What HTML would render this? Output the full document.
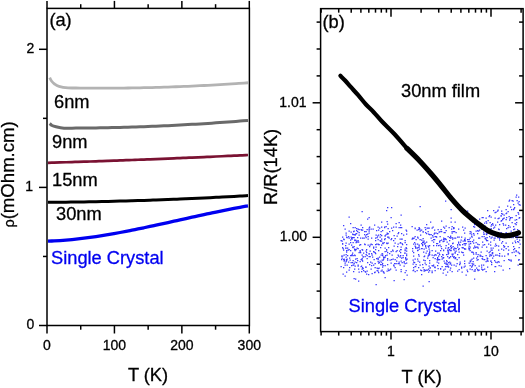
<!DOCTYPE html>
<html><head><meta charset="utf-8"><style>html,body{margin:0;padding:0;background:#fff;width:525px;height:388px;overflow:hidden}</style></head>
<body><svg width="525" height="388" viewBox="0 0 525 388" style="display:block;will-change:transform;font-family:'Liberation Sans',sans-serif"><rect x="47.0" y="8.4" width="202.4" height="317.1" fill="none" stroke="#000" stroke-width="1.5"/>
<line x1="47.00" y1="8.40" x2="47.00" y2="0.90" stroke="#000" stroke-width="1.5"/>
<line x1="47.00" y1="325.50" x2="47.00" y2="333.50" stroke="#000" stroke-width="1.5"/>
<line x1="80.72" y1="8.40" x2="80.72" y2="4.20" stroke="#000" stroke-width="1.5"/>
<line x1="80.72" y1="325.50" x2="80.72" y2="329.70" stroke="#000" stroke-width="1.5"/>
<line x1="114.43" y1="8.40" x2="114.43" y2="0.90" stroke="#000" stroke-width="1.5"/>
<line x1="114.43" y1="325.50" x2="114.43" y2="333.50" stroke="#000" stroke-width="1.5"/>
<line x1="148.15" y1="8.40" x2="148.15" y2="4.20" stroke="#000" stroke-width="1.5"/>
<line x1="148.15" y1="325.50" x2="148.15" y2="329.70" stroke="#000" stroke-width="1.5"/>
<line x1="181.87" y1="8.40" x2="181.87" y2="0.90" stroke="#000" stroke-width="1.5"/>
<line x1="181.87" y1="325.50" x2="181.87" y2="333.50" stroke="#000" stroke-width="1.5"/>
<line x1="215.58" y1="8.40" x2="215.58" y2="4.20" stroke="#000" stroke-width="1.5"/>
<line x1="215.58" y1="325.50" x2="215.58" y2="329.70" stroke="#000" stroke-width="1.5"/>
<line x1="249.30" y1="8.40" x2="249.30" y2="0.90" stroke="#000" stroke-width="1.5"/>
<line x1="249.30" y1="325.50" x2="249.30" y2="333.50" stroke="#000" stroke-width="1.5"/>
<line x1="47.00" y1="325.50" x2="39.00" y2="325.50" stroke="#000" stroke-width="1.5"/>
<line x1="47.00" y1="256.45" x2="43.00" y2="256.45" stroke="#000" stroke-width="1.5"/>
<line x1="47.00" y1="187.40" x2="39.00" y2="187.40" stroke="#000" stroke-width="1.5"/>
<line x1="47.00" y1="118.35" x2="43.00" y2="118.35" stroke="#000" stroke-width="1.5"/>
<line x1="47.00" y1="49.30" x2="39.00" y2="49.30" stroke="#000" stroke-width="1.5"/>
<text x="34.20" y="328.80" font-size="14" text-anchor="end" fill="#000" stroke="#000" stroke-width="0.3" >0</text>
<text x="33.00" y="191.40" font-size="14" text-anchor="end" fill="#000" stroke="#000" stroke-width="0.3" >1</text>
<text x="34.20" y="53.30" font-size="14" text-anchor="end" fill="#000" stroke="#000" stroke-width="0.3" >2</text>
<text x="47.00" y="350.00" font-size="14" text-anchor="middle" fill="#000" stroke="#000" stroke-width="0.3" >0</text>
<text x="114.43" y="350.00" font-size="14" text-anchor="middle" fill="#000" stroke="#000" stroke-width="0.3" >100</text>
<text x="181.87" y="350.00" font-size="14" text-anchor="middle" fill="#000" stroke="#000" stroke-width="0.3" >200</text>
<text x="249.30" y="350.00" font-size="14" text-anchor="middle" fill="#000" stroke="#000" stroke-width="0.3" >300</text>
<text x="148.00" y="381.00" font-size="18.25" text-anchor="middle" fill="#000" stroke="#000" stroke-width="0.3" >T (K)</text>
<text x="0" y="0" font-size="18.6" text-anchor="start" stroke="#000" stroke-width="0.3" transform="translate(14.3,227.6) rotate(-90)"><tspan font-size="14.5">&#961;</tspan>(mOhm.cm)</text>
<text x="49.40" y="26.00" font-size="18.25" text-anchor="start" fill="#000" stroke="#000" stroke-width="0.3" >(a)</text>
<path d="M49.70,77.60 C50.00,78.17 50.70,79.93 51.50,81.00 C52.30,82.07 53.25,83.12 54.50,84.00 C55.75,84.88 56.75,85.65 59.00,86.30 C61.25,86.95 65.17,87.59 68.00,87.87 C70.83,88.16 73.33,87.96 76.00,87.99 C78.67,88.03 81.33,88.06 84.00,88.08 C86.67,88.11 89.33,88.12 92.00,88.14 C94.67,88.15 97.33,88.16 100.00,88.16 C102.67,88.16 105.33,88.16 108.00,88.15 C110.67,88.14 113.33,88.13 116.00,88.11 C118.67,88.09 121.33,88.06 124.00,88.03 C126.67,88.00 129.33,87.97 132.00,87.93 C134.67,87.89 137.33,87.84 140.00,87.79 C142.67,87.74 145.33,87.68 148.00,87.62 C150.67,87.56 153.33,87.49 156.00,87.42 C158.67,87.34 161.33,87.26 164.00,87.18 C166.67,87.10 169.33,87.01 172.00,86.91 C174.67,86.82 177.33,86.72 180.00,86.61 C182.67,86.51 185.33,86.40 188.00,86.28 C190.67,86.16 193.33,86.04 196.00,85.91 C198.67,85.79 201.33,85.65 204.00,85.52 C206.67,85.38 209.33,85.24 212.00,85.09 C214.67,84.94 217.33,84.78 220.00,84.63 C222.67,84.47 225.33,84.30 228.00,84.13 C230.67,83.96 233.33,83.79 236.00,83.60 C238.67,83.42 242.00,83.19 244.00,83.05 C246.00,82.90 247.33,82.80 248.00,82.75" fill="none" stroke="#b3b3b3" stroke-width="2.8"/>
<path d="M49.70,123.50 C50.08,123.83 50.95,124.95 52.00,125.50 C53.05,126.05 54.00,126.36 56.00,126.80 C58.00,127.24 61.33,127.94 64.00,128.16 C66.67,128.38 69.33,128.15 72.00,128.14 C74.67,128.13 77.33,128.11 80.00,128.09 C82.67,128.07 85.33,128.04 88.00,128.01 C90.67,127.98 93.33,127.94 96.00,127.90 C98.67,127.86 101.33,127.82 104.00,127.77 C106.67,127.72 109.33,127.66 112.00,127.60 C114.67,127.54 117.33,127.48 120.00,127.41 C122.67,127.34 125.33,127.27 128.00,127.19 C130.67,127.11 133.33,127.02 136.00,126.94 C138.67,126.85 141.33,126.75 144.00,126.66 C146.67,126.56 149.33,126.45 152.00,126.35 C154.67,126.24 157.33,126.13 160.00,126.01 C162.67,125.89 165.33,125.77 168.00,125.64 C170.67,125.52 173.33,125.39 176.00,125.25 C178.67,125.11 181.33,124.97 184.00,124.83 C186.67,124.68 189.33,124.53 192.00,124.37 C194.67,124.22 197.33,124.06 200.00,123.89 C202.67,123.73 205.33,123.56 208.00,123.38 C210.67,123.21 213.33,123.03 216.00,122.84 C218.67,122.66 221.33,122.47 224.00,122.28 C226.67,122.08 229.33,121.88 232.00,121.68 C234.67,121.48 237.33,121.27 240.00,121.06 C242.67,120.84 246.67,120.51 248.00,120.40" fill="none" stroke="#6a6a6a" stroke-width="3"/>
<path d="M48.00,162.80 C49.00,162.77 52.00,162.68 54.00,162.62 C56.00,162.56 58.00,162.50 60.00,162.44 C62.00,162.38 64.00,162.32 66.00,162.25 C68.00,162.19 70.00,162.13 72.00,162.07 C74.00,162.00 76.00,161.94 78.00,161.87 C80.00,161.81 82.00,161.75 84.00,161.68 C86.00,161.61 88.00,161.55 90.00,161.48 C92.00,161.42 94.00,161.35 96.00,161.28 C98.00,161.21 100.00,161.14 102.00,161.07 C104.00,161.01 106.00,160.94 108.00,160.87 C110.00,160.80 112.00,160.73 114.00,160.65 C116.00,160.58 118.00,160.51 120.00,160.44 C122.00,160.37 124.00,160.29 126.00,160.22 C128.00,160.15 130.00,160.07 132.00,160.00 C134.00,159.92 136.00,159.85 138.00,159.77 C140.00,159.69 142.00,159.62 144.00,159.54 C146.00,159.46 148.00,159.39 150.00,159.31 C152.00,159.23 154.00,159.15 156.00,159.07 C158.00,158.99 160.00,158.91 162.00,158.83 C164.00,158.75 166.00,158.67 168.00,158.59 C170.00,158.50 172.00,158.42 174.00,158.34 C176.00,158.26 178.00,158.17 180.00,158.09 C182.00,158.00 184.00,157.92 186.00,157.83 C188.00,157.75 190.00,157.66 192.00,157.58 C194.00,157.49 196.00,157.40 198.00,157.32 C200.00,157.23 202.00,157.14 204.00,157.05 C206.00,156.96 208.00,156.87 210.00,156.78 C212.00,156.69 214.00,156.60 216.00,156.51 C218.00,156.42 220.00,156.33 222.00,156.24 C224.00,156.14 226.00,156.05 228.00,155.96 C230.00,155.86 232.00,155.77 234.00,155.67 C236.00,155.58 238.00,155.48 240.00,155.39 C242.00,155.29 244.67,155.16 246.00,155.10 C247.33,155.03 247.67,155.02 248.00,155.00" fill="none" stroke="#7a1232" stroke-width="2.7"/>
<path d="M48.00,202.36 C49.00,202.35 52.00,202.32 54.00,202.30 C56.00,202.28 58.00,202.26 60.00,202.24 C62.00,202.21 64.00,202.19 66.00,202.16 C68.00,202.14 70.00,202.11 72.00,202.08 C74.00,202.05 76.00,202.02 78.00,201.99 C80.00,201.96 82.00,201.93 84.00,201.89 C86.00,201.86 88.00,201.82 90.00,201.78 C92.00,201.74 94.00,201.70 96.00,201.66 C98.00,201.62 100.00,201.58 102.00,201.53 C104.00,201.49 106.00,201.44 108.00,201.40 C110.00,201.35 112.00,201.30 114.00,201.25 C116.00,201.20 118.00,201.15 120.00,201.10 C122.00,201.04 124.00,200.99 126.00,200.93 C128.00,200.88 130.00,200.82 132.00,200.76 C134.00,200.70 136.00,200.64 138.00,200.58 C140.00,200.51 142.00,200.45 144.00,200.38 C146.00,200.32 148.00,200.25 150.00,200.18 C152.00,200.11 154.00,200.04 156.00,199.97 C158.00,199.90 160.00,199.83 162.00,199.75 C164.00,199.68 166.00,199.60 168.00,199.52 C170.00,199.45 172.00,199.37 174.00,199.29 C176.00,199.21 178.00,199.12 180.00,199.04 C182.00,198.96 184.00,198.87 186.00,198.78 C188.00,198.70 190.00,198.61 192.00,198.52 C194.00,198.43 196.00,198.34 198.00,198.24 C200.00,198.15 202.00,198.06 204.00,197.96 C206.00,197.87 208.00,197.77 210.00,197.67 C212.00,197.57 214.00,197.47 216.00,197.37 C218.00,197.27 220.00,197.16 222.00,197.06 C224.00,196.95 226.00,196.84 228.00,196.74 C230.00,196.63 232.00,196.52 234.00,196.41 C236.00,196.30 238.00,196.18 240.00,196.07 C242.00,195.95 244.67,195.80 246.00,195.72 C247.33,195.64 247.67,195.62 248.00,195.60" fill="none" stroke="#000" stroke-width="3"/>
<path d="M48.00,241.18 C49.00,241.14 52.00,241.01 54.00,240.91 C56.00,240.80 58.00,240.68 60.00,240.54 C62.00,240.40 64.00,240.24 66.00,240.07 C68.00,239.90 70.00,239.72 72.00,239.52 C74.00,239.32 76.00,239.11 78.00,238.89 C80.00,238.66 82.00,238.42 84.00,238.17 C86.00,237.92 88.00,237.66 90.00,237.39 C92.00,237.11 94.00,236.83 96.00,236.53 C98.00,236.23 100.00,235.93 102.00,235.61 C104.00,235.29 106.00,234.96 108.00,234.63 C110.00,234.29 112.00,233.94 114.00,233.59 C116.00,233.24 118.00,232.87 120.00,232.50 C122.00,232.13 124.00,231.76 126.00,231.37 C128.00,230.99 130.00,230.59 132.00,230.20 C134.00,229.80 136.00,229.39 138.00,228.99 C140.00,228.58 142.00,228.16 144.00,227.74 C146.00,227.32 148.00,226.90 150.00,226.47 C152.00,226.05 154.00,225.61 156.00,225.18 C158.00,224.75 160.00,224.31 162.00,223.87 C164.00,223.43 166.00,222.99 168.00,222.54 C170.00,222.10 172.00,221.65 174.00,221.21 C176.00,220.76 178.00,220.32 180.00,219.87 C182.00,219.43 184.00,218.98 186.00,218.53 C188.00,218.09 190.00,217.64 192.00,217.20 C194.00,216.76 196.00,216.32 198.00,215.88 C200.00,215.44 202.00,215.00 204.00,214.57 C206.00,214.14 208.00,213.71 210.00,213.28 C212.00,212.86 214.00,212.43 216.00,212.02 C218.00,211.60 220.00,211.19 222.00,210.78 C224.00,210.37 226.00,209.97 228.00,209.58 C230.00,209.18 232.00,208.79 234.00,208.41 C236.00,208.03 238.00,207.65 240.00,207.28 C242.00,206.92 244.67,206.44 246.00,206.21 C247.33,205.97 247.67,205.92 248.00,205.86" fill="none" stroke="#0000f0" stroke-width="3.3"/>
<text x="54.00" y="107.50" font-size="18.25" text-anchor="start" fill="#000" stroke="#000" stroke-width="0.3" >6nm</text>
<text x="52.00" y="148.00" font-size="18.25" text-anchor="start" fill="#000" stroke="#000" stroke-width="0.3" >9nm</text>
<text x="52.00" y="185.50" font-size="18.25" text-anchor="start" fill="#000" stroke="#000" stroke-width="0.3" >15nm</text>
<text x="56.00" y="220.00" font-size="18.25" text-anchor="start" fill="#000" stroke="#000" stroke-width="0.3" >30nm</text>
<text x="51.00" y="263.50" font-size="18.25" text-anchor="start" fill="#0000f0" stroke="#0000f0" stroke-width="0.3" >Single Crystal</text>
<rect x="320.6" y="8.65" width="202.5" height="322.95000000000005" fill="none" stroke="#000" stroke-width="1.5"/>
<line x1="321.10" y1="8.65" x2="321.10" y2="12.65" stroke="#000" stroke-width="1.5"/>
<line x1="321.10" y1="331.60" x2="321.10" y2="335.60" stroke="#000" stroke-width="1.5"/>
<line x1="338.71" y1="8.65" x2="338.71" y2="12.65" stroke="#000" stroke-width="1.5"/>
<line x1="338.71" y1="331.60" x2="338.71" y2="335.60" stroke="#000" stroke-width="1.5"/>
<line x1="351.21" y1="8.65" x2="351.21" y2="12.65" stroke="#000" stroke-width="1.5"/>
<line x1="351.21" y1="331.60" x2="351.21" y2="335.60" stroke="#000" stroke-width="1.5"/>
<line x1="360.90" y1="8.65" x2="360.90" y2="12.65" stroke="#000" stroke-width="1.5"/>
<line x1="360.90" y1="331.60" x2="360.90" y2="335.60" stroke="#000" stroke-width="1.5"/>
<line x1="368.82" y1="8.65" x2="368.82" y2="12.65" stroke="#000" stroke-width="1.5"/>
<line x1="368.82" y1="331.60" x2="368.82" y2="335.60" stroke="#000" stroke-width="1.5"/>
<line x1="375.51" y1="8.65" x2="375.51" y2="12.65" stroke="#000" stroke-width="1.5"/>
<line x1="375.51" y1="331.60" x2="375.51" y2="335.60" stroke="#000" stroke-width="1.5"/>
<line x1="381.31" y1="8.65" x2="381.31" y2="12.65" stroke="#000" stroke-width="1.5"/>
<line x1="381.31" y1="331.60" x2="381.31" y2="335.60" stroke="#000" stroke-width="1.5"/>
<line x1="386.42" y1="8.65" x2="386.42" y2="12.65" stroke="#000" stroke-width="1.5"/>
<line x1="386.42" y1="331.60" x2="386.42" y2="335.60" stroke="#000" stroke-width="1.5"/>
<line x1="391.00" y1="8.65" x2="391.00" y2="16.65" stroke="#000" stroke-width="1.5"/>
<line x1="391.00" y1="331.60" x2="391.00" y2="339.60" stroke="#000" stroke-width="1.5"/>
<line x1="421.10" y1="8.65" x2="421.10" y2="12.65" stroke="#000" stroke-width="1.5"/>
<line x1="421.10" y1="331.60" x2="421.10" y2="335.60" stroke="#000" stroke-width="1.5"/>
<line x1="438.71" y1="8.65" x2="438.71" y2="12.65" stroke="#000" stroke-width="1.5"/>
<line x1="438.71" y1="331.60" x2="438.71" y2="335.60" stroke="#000" stroke-width="1.5"/>
<line x1="451.21" y1="8.65" x2="451.21" y2="12.65" stroke="#000" stroke-width="1.5"/>
<line x1="451.21" y1="331.60" x2="451.21" y2="335.60" stroke="#000" stroke-width="1.5"/>
<line x1="460.90" y1="8.65" x2="460.90" y2="12.65" stroke="#000" stroke-width="1.5"/>
<line x1="460.90" y1="331.60" x2="460.90" y2="335.60" stroke="#000" stroke-width="1.5"/>
<line x1="468.82" y1="8.65" x2="468.82" y2="12.65" stroke="#000" stroke-width="1.5"/>
<line x1="468.82" y1="331.60" x2="468.82" y2="335.60" stroke="#000" stroke-width="1.5"/>
<line x1="475.51" y1="8.65" x2="475.51" y2="12.65" stroke="#000" stroke-width="1.5"/>
<line x1="475.51" y1="331.60" x2="475.51" y2="335.60" stroke="#000" stroke-width="1.5"/>
<line x1="481.31" y1="8.65" x2="481.31" y2="12.65" stroke="#000" stroke-width="1.5"/>
<line x1="481.31" y1="331.60" x2="481.31" y2="335.60" stroke="#000" stroke-width="1.5"/>
<line x1="486.42" y1="8.65" x2="486.42" y2="12.65" stroke="#000" stroke-width="1.5"/>
<line x1="486.42" y1="331.60" x2="486.42" y2="335.60" stroke="#000" stroke-width="1.5"/>
<line x1="491.00" y1="8.65" x2="491.00" y2="16.65" stroke="#000" stroke-width="1.5"/>
<line x1="491.00" y1="331.60" x2="491.00" y2="339.60" stroke="#000" stroke-width="1.5"/>
<line x1="521.10" y1="8.65" x2="521.10" y2="12.65" stroke="#000" stroke-width="1.5"/>
<line x1="521.10" y1="331.60" x2="521.10" y2="335.60" stroke="#000" stroke-width="1.5"/>
<line x1="320.60" y1="318.00" x2="316.60" y2="318.00" stroke="#000" stroke-width="1.5"/>
<line x1="523.10" y1="318.00" x2="519.10" y2="318.00" stroke="#000" stroke-width="1.5"/>
<line x1="320.60" y1="291.10" x2="316.60" y2="291.10" stroke="#000" stroke-width="1.5"/>
<line x1="523.10" y1="291.10" x2="519.10" y2="291.10" stroke="#000" stroke-width="1.5"/>
<line x1="320.60" y1="264.20" x2="316.60" y2="264.20" stroke="#000" stroke-width="1.5"/>
<line x1="523.10" y1="264.20" x2="519.10" y2="264.20" stroke="#000" stroke-width="1.5"/>
<line x1="320.60" y1="237.30" x2="312.60" y2="237.30" stroke="#000" stroke-width="1.5"/>
<line x1="523.10" y1="237.30" x2="515.10" y2="237.30" stroke="#000" stroke-width="1.5"/>
<line x1="320.60" y1="210.40" x2="316.60" y2="210.40" stroke="#000" stroke-width="1.5"/>
<line x1="523.10" y1="210.40" x2="519.10" y2="210.40" stroke="#000" stroke-width="1.5"/>
<line x1="320.60" y1="183.50" x2="316.60" y2="183.50" stroke="#000" stroke-width="1.5"/>
<line x1="523.10" y1="183.50" x2="519.10" y2="183.50" stroke="#000" stroke-width="1.5"/>
<line x1="320.60" y1="156.60" x2="316.60" y2="156.60" stroke="#000" stroke-width="1.5"/>
<line x1="523.10" y1="156.60" x2="519.10" y2="156.60" stroke="#000" stroke-width="1.5"/>
<line x1="320.60" y1="129.70" x2="316.60" y2="129.70" stroke="#000" stroke-width="1.5"/>
<line x1="523.10" y1="129.70" x2="519.10" y2="129.70" stroke="#000" stroke-width="1.5"/>
<line x1="320.60" y1="102.80" x2="312.60" y2="102.80" stroke="#000" stroke-width="1.5"/>
<line x1="523.10" y1="102.80" x2="515.10" y2="102.80" stroke="#000" stroke-width="1.5"/>
<line x1="320.60" y1="75.90" x2="316.60" y2="75.90" stroke="#000" stroke-width="1.5"/>
<line x1="523.10" y1="75.90" x2="519.10" y2="75.90" stroke="#000" stroke-width="1.5"/>
<line x1="320.60" y1="49.00" x2="316.60" y2="49.00" stroke="#000" stroke-width="1.5"/>
<line x1="523.10" y1="49.00" x2="519.10" y2="49.00" stroke="#000" stroke-width="1.5"/>
<line x1="320.60" y1="22.10" x2="316.60" y2="22.10" stroke="#000" stroke-width="1.5"/>
<line x1="523.10" y1="22.10" x2="519.10" y2="22.10" stroke="#000" stroke-width="1.5"/>
<text x="306.50" y="106.60" font-size="14" text-anchor="end" fill="#000" stroke="#000" stroke-width="0.3" >1.01</text>
<text x="307.00" y="241.10" font-size="14" text-anchor="end" fill="#000" stroke="#000" stroke-width="0.3" >1.00</text>
<text x="391.00" y="356.00" font-size="14" text-anchor="middle" fill="#000" stroke="#000" stroke-width="0.3" >1</text>
<text x="491.00" y="356.00" font-size="14" text-anchor="middle" fill="#000" stroke="#000" stroke-width="0.3" >10</text>
<text x="421.70" y="383.00" font-size="18.25" text-anchor="middle" fill="#000" stroke="#000" stroke-width="0.3" >T (K)</text>
<text x="0" y="0" font-size="18.25" text-anchor="middle" stroke="#000" stroke-width="0.3" transform="translate(277,166.9) rotate(-90)">R/R(14K)</text>
<text x="322.50" y="28.00" font-size="18.25" text-anchor="start" fill="#000" stroke="#000" stroke-width="0.3" >(b)</text>
<text x="401.00" y="96.70" font-size="18.25" text-anchor="start" fill="#000" stroke="#000" stroke-width="0.3" >30nm film</text>
<text x="348.50" y="312.00" font-size="18.25" text-anchor="start" fill="#0000f0" stroke="#0000f0" stroke-width="0.3" >Single Crystal</text>
<path d="M340.5 240h1.3v1.3h-1.3zM340.5 266h1.3v1.3h-1.3zM341 255.5h1.3v1.3h-1.3zM341 259h1.3v1.3h-1.3zM341.5 240.5h1.3v1.3h-1.3zM341.5 257.5h1.3v1.3h-1.3zM342 236.5h1.3v1.3h-1.3zM342 243h1.3v1.3h-1.3zM342 243.5h1.3v1.3h-1.3zM342 247h1.3v1.3h-1.3zM342 255.5h1.3v1.3h-1.3zM342.5 248h1.3v1.3h-1.3zM342.5 273.5h1.3v1.3h-1.3zM343 225h1.3v1.3h-1.3zM343 238.5h1.3v1.3h-1.3zM343 249.5h1.3v1.3h-1.3zM343 259h1.3v1.3h-1.3zM343 267h1.3v1.3h-1.3zM343.5 239h1.3v1.3h-1.3zM343.5 254.5h1.3v1.3h-1.3zM343.5 258.5h1.3v1.3h-1.3zM343.5 260.5h1.3v1.3h-1.3zM344 259.5h1.3v1.3h-1.3zM344.5 228.5h1.3v1.3h-1.3zM344.5 262.5h1.3v1.3h-1.3zM344.5 264.5h1.3v1.3h-1.3zM344.5 275.5h1.3v1.3h-1.3zM345 245h1.3v1.3h-1.3zM345 247.5h1.3v1.3h-1.3zM345.5 232.5h1.3v1.3h-1.3zM345.5 234.5h1.3v1.3h-1.3zM345.5 242.5h1.3v1.3h-1.3zM345.5 254h1.3v1.3h-1.3zM345.5 256.5h1.3v1.3h-1.3zM345.5 261h1.3v1.3h-1.3zM346 236.5h1.3v1.3h-1.3zM346 250h1.3v1.3h-1.3zM346 251.5h1.3v1.3h-1.3zM346 259h1.3v1.3h-1.3zM346 259.5h1.3v1.3h-1.3zM346 260h1.3v1.3h-1.3zM346 271.5h1.3v1.3h-1.3zM346.5 237h1.3v1.3h-1.3zM346.5 247.5h1.3v1.3h-1.3zM346.5 258.5h1.3v1.3h-1.3zM346.5 264.5h1.3v1.3h-1.3zM347 247.5h1.3v1.3h-1.3zM347 255h1.3v1.3h-1.3zM347.5 249.5h1.3v1.3h-1.3zM348 236h1.3v1.3h-1.3zM348 261.5h1.3v1.3h-1.3zM348.5 216.5h1.3v1.3h-1.3zM348.5 230.5h1.3v1.3h-1.3zM348.5 237.5h1.3v1.3h-1.3zM348.5 243.5h1.3v1.3h-1.3zM348.5 249h1.3v1.3h-1.3zM348.5 269.5h1.3v1.3h-1.3zM349 257.5h1.3v1.3h-1.3zM349 267h1.3v1.3h-1.3zM349.5 259.5h1.3v1.3h-1.3zM350 223h1.3v1.3h-1.3zM350 239.5h1.3v1.3h-1.3zM350 242h1.3v1.3h-1.3zM350 250h1.3v1.3h-1.3zM350 255h1.3v1.3h-1.3zM350.5 231.5h1.3v1.3h-1.3zM350.5 236.5h1.3v1.3h-1.3zM350.5 262h1.3v1.3h-1.3zM351 238h1.3v1.3h-1.3zM351 244.5h1.3v1.3h-1.3zM351 255h1.3v1.3h-1.3zM351 265h1.3v1.3h-1.3zM351.5 237h1.3v1.3h-1.3zM351.5 238.5h1.3v1.3h-1.3zM351.5 254h1.3v1.3h-1.3zM352 233.5h1.3v1.3h-1.3zM352 246.5h1.3v1.3h-1.3zM352 252.5h1.3v1.3h-1.3zM352 262h1.3v1.3h-1.3zM352.5 227h1.3v1.3h-1.3zM352.5 234h1.3v1.3h-1.3zM352.5 237h1.3v1.3h-1.3zM352.5 242h1.3v1.3h-1.3zM352.5 247h1.3v1.3h-1.3zM352.5 255h1.3v1.3h-1.3zM352.5 260h1.3v1.3h-1.3zM352.5 264.5h1.3v1.3h-1.3zM353 231h1.3v1.3h-1.3zM353 264.5h1.3v1.3h-1.3zM353 271h1.3v1.3h-1.3zM353.5 230.5h1.3v1.3h-1.3zM353.5 234h1.3v1.3h-1.3zM353.5 237h1.3v1.3h-1.3zM353.5 246h1.3v1.3h-1.3zM353.5 263h1.3v1.3h-1.3zM353.5 278h1.3v1.3h-1.3zM354 239.5h1.3v1.3h-1.3zM354 248.5h1.3v1.3h-1.3zM354 249h1.3v1.3h-1.3zM354 254.5h1.3v1.3h-1.3zM354 268.5h1.3v1.3h-1.3zM354.5 227h1.3v1.3h-1.3zM354.5 234.5h1.3v1.3h-1.3zM354.5 240h1.3v1.3h-1.3zM354.5 250h1.3v1.3h-1.3zM354.5 255h1.3v1.3h-1.3zM354.5 261.5h1.3v1.3h-1.3zM354.5 265.5h1.3v1.3h-1.3zM355 233.5h1.3v1.3h-1.3zM355 239.5h1.3v1.3h-1.3zM355 249h1.3v1.3h-1.3zM355 258.5h1.3v1.3h-1.3zM355 278.5h1.3v1.3h-1.3zM355.5 242h1.3v1.3h-1.3zM355.5 249h1.3v1.3h-1.3zM356 228h1.3v1.3h-1.3zM356 230h1.3v1.3h-1.3zM356 233h1.3v1.3h-1.3zM356 240.5h1.3v1.3h-1.3zM356 262h1.3v1.3h-1.3zM356.5 241.5h1.3v1.3h-1.3zM356.5 247.5h1.3v1.3h-1.3zM356.5 258h1.3v1.3h-1.3zM357 231h1.3v1.3h-1.3zM357 237h1.3v1.3h-1.3zM357 260h1.3v1.3h-1.3zM357.5 228.5h1.3v1.3h-1.3zM357.5 240h1.3v1.3h-1.3zM357.5 248h1.3v1.3h-1.3zM357.5 264.5h1.3v1.3h-1.3zM357.5 265.5h1.3v1.3h-1.3zM358 241.5h1.3v1.3h-1.3zM358 268.5h1.3v1.3h-1.3zM358 280.5h1.3v1.3h-1.3zM358.5 229h1.3v1.3h-1.3zM358.5 232h1.3v1.3h-1.3zM358.5 234.5h1.3v1.3h-1.3zM358.5 252h1.3v1.3h-1.3zM358.5 271.5h1.3v1.3h-1.3zM359 244.5h1.3v1.3h-1.3zM359.5 250h1.3v1.3h-1.3zM359.5 251h1.3v1.3h-1.3zM359.5 261h1.3v1.3h-1.3zM360 237.5h1.3v1.3h-1.3zM360 244h1.3v1.3h-1.3zM360 252h1.3v1.3h-1.3zM360.5 224.5h1.3v1.3h-1.3zM360.5 229h1.3v1.3h-1.3zM360.5 259h1.3v1.3h-1.3zM360.5 266h1.3v1.3h-1.3zM361 229.5h1.3v1.3h-1.3zM361 265.5h1.3v1.3h-1.3zM361 271h1.3v1.3h-1.3zM361.5 211h1.3v1.3h-1.3zM361.5 249h1.3v1.3h-1.3zM361.5 254.5h1.3v1.3h-1.3zM361.5 258h1.3v1.3h-1.3zM361.5 259.5h1.3v1.3h-1.3zM361.5 268.5h1.3v1.3h-1.3zM362 227h1.3v1.3h-1.3zM362 229.5h1.3v1.3h-1.3zM362 237.5h1.3v1.3h-1.3zM362 249.5h1.3v1.3h-1.3zM362 260.5h1.3v1.3h-1.3zM362 267h1.3v1.3h-1.3zM362.5 256h1.3v1.3h-1.3zM362.5 256.5h1.3v1.3h-1.3zM362.5 268h1.3v1.3h-1.3zM363 252.5h1.3v1.3h-1.3zM363 270h1.3v1.3h-1.3zM363.5 237.5h1.3v1.3h-1.3zM364 231h1.3v1.3h-1.3zM364 234h1.3v1.3h-1.3zM364 243.5h1.3v1.3h-1.3zM364.5 244h1.3v1.3h-1.3zM364.5 256h1.3v1.3h-1.3zM364.5 271h1.3v1.3h-1.3zM365 235.5h1.3v1.3h-1.3zM365 266.5h1.3v1.3h-1.3zM365 271.5h1.3v1.3h-1.3zM365.5 231h1.3v1.3h-1.3zM365.5 237h1.3v1.3h-1.3zM365.5 250.5h1.3v1.3h-1.3zM365.5 254h1.3v1.3h-1.3zM365.5 266.5h1.3v1.3h-1.3zM366 234h1.3v1.3h-1.3zM366 249h1.3v1.3h-1.3zM366 252h1.3v1.3h-1.3zM366 273.5h1.3v1.3h-1.3zM366.5 229h1.3v1.3h-1.3zM366.5 255h1.3v1.3h-1.3zM366.5 258h1.3v1.3h-1.3zM366.5 270.5h1.3v1.3h-1.3zM367 218.5h1.3v1.3h-1.3zM367 233.5h1.3v1.3h-1.3zM367 262h1.3v1.3h-1.3zM367.5 236h1.3v1.3h-1.3zM367.5 238.5h1.3v1.3h-1.3zM367.5 244.5h1.3v1.3h-1.3zM368 274h1.3v1.3h-1.3zM368.5 217h1.3v1.3h-1.3zM368.5 227.5h1.3v1.3h-1.3zM368.5 229h1.3v1.3h-1.3zM368.5 230.5h1.3v1.3h-1.3zM368.5 232.5h1.3v1.3h-1.3zM368.5 253h1.3v1.3h-1.3zM368.5 253.5h1.3v1.3h-1.3zM368.5 256h1.3v1.3h-1.3zM369 226.5h1.3v1.3h-1.3zM369 246h1.3v1.3h-1.3zM369 264h1.3v1.3h-1.3zM369.5 244.5h1.3v1.3h-1.3zM369.5 250.5h1.3v1.3h-1.3zM369.5 256h1.3v1.3h-1.3zM370 261.5h1.3v1.3h-1.3zM370.5 228.5h1.3v1.3h-1.3zM370.5 243.5h1.3v1.3h-1.3zM370.5 268.5h1.3v1.3h-1.3zM371 237.5h1.3v1.3h-1.3zM371 253h1.3v1.3h-1.3zM371 265h1.3v1.3h-1.3zM371.5 244h1.3v1.3h-1.3zM371.5 254.5h1.3v1.3h-1.3zM371.5 262.5h1.3v1.3h-1.3zM371.5 273h1.3v1.3h-1.3zM372 256.5h1.3v1.3h-1.3zM372.5 228.5h1.3v1.3h-1.3zM373 246.5h1.3v1.3h-1.3zM373 247.5h1.3v1.3h-1.3zM373 251h1.3v1.3h-1.3zM373 264.5h1.3v1.3h-1.3zM373.5 251.5h1.3v1.3h-1.3zM373.5 259h1.3v1.3h-1.3zM374 224.5h1.3v1.3h-1.3zM374 272h1.3v1.3h-1.3zM374.5 252h1.3v1.3h-1.3zM374.5 263h1.3v1.3h-1.3zM374.5 267h1.3v1.3h-1.3zM374.5 271.5h1.3v1.3h-1.3zM375 237.5h1.3v1.3h-1.3zM375 240h1.3v1.3h-1.3zM375 244h1.3v1.3h-1.3zM375 249h1.3v1.3h-1.3zM375 253h1.3v1.3h-1.3zM375.5 234.5h1.3v1.3h-1.3zM375.5 246.5h1.3v1.3h-1.3zM375.5 284h1.3v1.3h-1.3zM376 230h1.3v1.3h-1.3zM376 243.5h1.3v1.3h-1.3zM376 258h1.3v1.3h-1.3zM376.5 237h1.3v1.3h-1.3zM376.5 267.5h1.3v1.3h-1.3zM376.5 270h1.3v1.3h-1.3zM377 235.5h1.3v1.3h-1.3zM377.5 226.5h1.3v1.3h-1.3zM377.5 239h1.3v1.3h-1.3zM377.5 243.5h1.3v1.3h-1.3zM377.5 257.5h1.3v1.3h-1.3zM377.5 258h1.3v1.3h-1.3zM377.5 259h1.3v1.3h-1.3zM377.5 261h1.3v1.3h-1.3zM377.5 268h1.3v1.3h-1.3zM377.5 270.5h1.3v1.3h-1.3zM378 229.5h1.3v1.3h-1.3zM378 234.5h1.3v1.3h-1.3zM378 244h1.3v1.3h-1.3zM378 250h1.3v1.3h-1.3zM378 262.5h1.3v1.3h-1.3zM378 272h1.3v1.3h-1.3zM378.5 244h1.3v1.3h-1.3zM378.5 267.5h1.3v1.3h-1.3zM379 227.5h1.3v1.3h-1.3zM379 256.5h1.3v1.3h-1.3zM379 262h1.3v1.3h-1.3zM379.5 236.5h1.3v1.3h-1.3zM379.5 240h1.3v1.3h-1.3zM379.5 260.5h1.3v1.3h-1.3zM380 234h1.3v1.3h-1.3zM380 240.5h1.3v1.3h-1.3zM380 247h1.3v1.3h-1.3zM380 264h1.3v1.3h-1.3zM380.5 231h1.3v1.3h-1.3zM380.5 254.5h1.3v1.3h-1.3zM380.5 270.5h1.3v1.3h-1.3zM381 221.5h1.3v1.3h-1.3zM381 226.5h1.3v1.3h-1.3zM381 235h1.3v1.3h-1.3zM381 238.5h1.3v1.3h-1.3zM381 240.5h1.3v1.3h-1.3zM381 244.5h1.3v1.3h-1.3zM381 261.5h1.3v1.3h-1.3zM381.5 253h1.3v1.3h-1.3zM381.5 259.5h1.3v1.3h-1.3zM381.5 264h1.3v1.3h-1.3zM381.5 269.5h1.3v1.3h-1.3zM382 230h1.3v1.3h-1.3zM382 242.5h1.3v1.3h-1.3zM382 253.5h1.3v1.3h-1.3zM382 255h1.3v1.3h-1.3zM382 263h1.3v1.3h-1.3zM382 266.5h1.3v1.3h-1.3zM382.5 243h1.3v1.3h-1.3zM382.5 259.5h1.3v1.3h-1.3zM382.5 265h1.3v1.3h-1.3zM382.5 271h1.3v1.3h-1.3zM383 256.5h1.3v1.3h-1.3zM383 257h1.3v1.3h-1.3zM383 258.5h1.3v1.3h-1.3zM383 271.5h1.3v1.3h-1.3zM383.5 242h1.3v1.3h-1.3zM383.5 272.5h1.3v1.3h-1.3zM384 226.5h1.3v1.3h-1.3zM384 227h1.3v1.3h-1.3zM384 239h1.3v1.3h-1.3zM384 257h1.3v1.3h-1.3zM384.5 235h1.3v1.3h-1.3zM384.5 235.5h1.3v1.3h-1.3zM384.5 238h1.3v1.3h-1.3zM384.5 247.5h1.3v1.3h-1.3zM384.5 251h1.3v1.3h-1.3zM384.5 256.5h1.3v1.3h-1.3zM384.5 265h1.3v1.3h-1.3zM384.5 277h1.3v1.3h-1.3zM385 255h1.3v1.3h-1.3zM385.5 226h1.3v1.3h-1.3zM385.5 234h1.3v1.3h-1.3zM386 210h1.3v1.3h-1.3zM386 242.5h1.3v1.3h-1.3zM386 249h1.3v1.3h-1.3zM386 250.5h1.3v1.3h-1.3zM386.5 221h1.3v1.3h-1.3zM386.5 232.5h1.3v1.3h-1.3zM386.5 243h1.3v1.3h-1.3zM386.5 254.5h1.3v1.3h-1.3zM386.5 270.5h1.3v1.3h-1.3zM387 207h1.3v1.3h-1.3zM387 223.5h1.3v1.3h-1.3zM387 233.5h1.3v1.3h-1.3zM387 236.5h1.3v1.3h-1.3zM387 252h1.3v1.3h-1.3zM387 258h1.3v1.3h-1.3zM387 259.5h1.3v1.3h-1.3zM387 264h1.3v1.3h-1.3zM387.5 228h1.3v1.3h-1.3zM387.5 233h1.3v1.3h-1.3zM387.5 242.5h1.3v1.3h-1.3zM387.5 268.5h1.3v1.3h-1.3zM388 236.5h1.3v1.3h-1.3zM388 247h1.3v1.3h-1.3zM388 270h1.3v1.3h-1.3zM388.5 237.5h1.3v1.3h-1.3zM389 231h1.3v1.3h-1.3zM389 253h1.3v1.3h-1.3zM389 269.5h1.3v1.3h-1.3zM389.5 259.5h1.3v1.3h-1.3zM390 268.5h1.3v1.3h-1.3zM390.5 217h1.3v1.3h-1.3zM390.5 239h1.3v1.3h-1.3zM390.5 251h1.3v1.3h-1.3zM390.5 262.5h1.3v1.3h-1.3zM391 207h1.3v1.3h-1.3zM391 227.5h1.3v1.3h-1.3zM391 238h1.3v1.3h-1.3zM391 259h1.3v1.3h-1.3zM391.5 254.5h1.3v1.3h-1.3zM392 230h1.3v1.3h-1.3zM392 249.5h1.3v1.3h-1.3zM392.5 250.5h1.3v1.3h-1.3zM392.5 258.5h1.3v1.3h-1.3zM393 226.5h1.3v1.3h-1.3zM393 240h1.3v1.3h-1.3zM393 264.5h1.3v1.3h-1.3zM393.5 235h1.3v1.3h-1.3zM393.5 245.5h1.3v1.3h-1.3zM393.5 265.5h1.3v1.3h-1.3zM393.5 280h1.3v1.3h-1.3zM394 263h1.3v1.3h-1.3zM394.5 238h1.3v1.3h-1.3zM394.5 242.5h1.3v1.3h-1.3zM394.5 259h1.3v1.3h-1.3zM394.5 267h1.3v1.3h-1.3zM395.5 223h1.3v1.3h-1.3zM395.5 226.5h1.3v1.3h-1.3zM395.5 251h1.3v1.3h-1.3zM395.5 263h1.3v1.3h-1.3zM395.5 269.5h1.3v1.3h-1.3zM396 260.5h1.3v1.3h-1.3zM396.5 235.5h1.3v1.3h-1.3zM396.5 250h1.3v1.3h-1.3zM396.5 257h1.3v1.3h-1.3zM397 246h1.3v1.3h-1.3zM397.5 233h1.3v1.3h-1.3zM397.5 243.5h1.3v1.3h-1.3zM397.5 254.5h1.3v1.3h-1.3zM397.5 263h1.3v1.3h-1.3zM398 232h1.3v1.3h-1.3zM398 255.5h1.3v1.3h-1.3zM398.5 222h1.3v1.3h-1.3zM398.5 227h1.3v1.3h-1.3zM398.5 261.5h1.3v1.3h-1.3zM398.5 263h1.3v1.3h-1.3zM399 250.5h1.3v1.3h-1.3zM399.5 238.5h1.3v1.3h-1.3zM399.5 242.5h1.3v1.3h-1.3zM399.5 256.5h1.3v1.3h-1.3zM399.5 264.5h1.3v1.3h-1.3zM400 224.5h1.3v1.3h-1.3zM400 227h1.3v1.3h-1.3zM400 242h1.3v1.3h-1.3zM400 249h1.3v1.3h-1.3zM400 252h1.3v1.3h-1.3zM400 255h1.3v1.3h-1.3zM400.5 214.5h1.3v1.3h-1.3zM400.5 246.5h1.3v1.3h-1.3zM400.5 249h1.3v1.3h-1.3zM400.5 260.5h1.3v1.3h-1.3zM400.5 269h1.3v1.3h-1.3zM400.5 271h1.3v1.3h-1.3zM401 227h1.3v1.3h-1.3zM401 233h1.3v1.3h-1.3zM401 238.5h1.3v1.3h-1.3zM401 257.5h1.3v1.3h-1.3zM401.5 238.5h1.3v1.3h-1.3zM401.5 243h1.3v1.3h-1.3zM401.5 262h1.3v1.3h-1.3zM402 244h1.3v1.3h-1.3zM402.5 255h1.3v1.3h-1.3zM402.5 257h1.3v1.3h-1.3zM403 234.5h1.3v1.3h-1.3zM403.5 261h1.3v1.3h-1.3zM403.5 262h1.3v1.3h-1.3zM403.5 265.5h1.3v1.3h-1.3zM403.5 279h1.3v1.3h-1.3zM404 252.5h1.3v1.3h-1.3zM404.5 240h1.3v1.3h-1.3zM404.5 242h1.3v1.3h-1.3zM404.5 248.5h1.3v1.3h-1.3zM404.5 250h1.3v1.3h-1.3zM404.5 252.5h1.3v1.3h-1.3zM404.5 263h1.3v1.3h-1.3zM404.5 272h1.3v1.3h-1.3zM405 257h1.3v1.3h-1.3zM405 258h1.3v1.3h-1.3zM405.5 229.5h1.3v1.3h-1.3zM405.5 247h1.3v1.3h-1.3zM405.5 259h1.3v1.3h-1.3zM405.5 259.5h1.3v1.3h-1.3zM405.5 270h1.3v1.3h-1.3zM406 230.5h1.3v1.3h-1.3zM406 233.5h1.3v1.3h-1.3zM406 244h1.3v1.3h-1.3zM406 248h1.3v1.3h-1.3zM406 250.5h1.3v1.3h-1.3zM406 253.5h1.3v1.3h-1.3zM406 255h1.3v1.3h-1.3zM406 262.5h1.3v1.3h-1.3zM406.5 258.5h1.3v1.3h-1.3zM406.5 274.5h1.3v1.3h-1.3zM411.5 226h1.3v1.3h-1.3zM411.5 238.5h1.3v1.3h-1.3zM412 237.5h1.3v1.3h-1.3zM412 248h1.3v1.3h-1.3zM412 250.5h1.3v1.3h-1.3zM412.5 238h1.3v1.3h-1.3zM412.5 259.5h1.3v1.3h-1.3zM412.5 263.5h1.3v1.3h-1.3zM412.5 270h1.3v1.3h-1.3zM413 243.5h1.3v1.3h-1.3zM413 252h1.3v1.3h-1.3zM413 255.5h1.3v1.3h-1.3zM413 261.5h1.3v1.3h-1.3zM413 267h1.3v1.3h-1.3zM413 269.5h1.3v1.3h-1.3zM413.5 237.5h1.3v1.3h-1.3zM414 242h1.3v1.3h-1.3zM414 262h1.3v1.3h-1.3zM414.5 227.5h1.3v1.3h-1.3zM414.5 228h1.3v1.3h-1.3zM414.5 236h1.3v1.3h-1.3zM414.5 245.5h1.3v1.3h-1.3zM414.5 258.5h1.3v1.3h-1.3zM414.5 266h1.3v1.3h-1.3zM414.5 271h1.3v1.3h-1.3zM415 243.5h1.3v1.3h-1.3zM415 246.5h1.3v1.3h-1.3zM415 247.5h1.3v1.3h-1.3zM415 266h1.3v1.3h-1.3zM415.5 239h1.3v1.3h-1.3zM415.5 264h1.3v1.3h-1.3zM416.5 229.5h1.3v1.3h-1.3zM416.5 247.5h1.3v1.3h-1.3zM416.5 270h1.3v1.3h-1.3zM417 236.5h1.3v1.3h-1.3zM417 243.5h1.3v1.3h-1.3zM417 250h1.3v1.3h-1.3zM417 258.5h1.3v1.3h-1.3zM417.5 237.5h1.3v1.3h-1.3zM417.5 247h1.3v1.3h-1.3zM417.5 249.5h1.3v1.3h-1.3zM417.5 260.5h1.3v1.3h-1.3zM418 229h1.3v1.3h-1.3zM418 254h1.3v1.3h-1.3zM418 267h1.3v1.3h-1.3zM418.5 227h1.3v1.3h-1.3zM418.5 228.5h1.3v1.3h-1.3zM418.5 244.5h1.3v1.3h-1.3zM418.5 245h1.3v1.3h-1.3zM418.5 246.5h1.3v1.3h-1.3zM418.5 255.5h1.3v1.3h-1.3zM419 228h1.3v1.3h-1.3zM419 228.5h1.3v1.3h-1.3zM419 248.5h1.3v1.3h-1.3zM419 261.5h1.3v1.3h-1.3zM419.5 206h1.3v1.3h-1.3zM419.5 230.5h1.3v1.3h-1.3zM419.5 239h1.3v1.3h-1.3zM419.5 264.5h1.3v1.3h-1.3zM420 234.5h1.3v1.3h-1.3zM420 269.5h1.3v1.3h-1.3zM420.5 229.5h1.3v1.3h-1.3zM421 229.5h1.3v1.3h-1.3zM421 239.5h1.3v1.3h-1.3zM421 243h1.3v1.3h-1.3zM421 248h1.3v1.3h-1.3zM421 270h1.3v1.3h-1.3zM421 274h1.3v1.3h-1.3zM421.5 248h1.3v1.3h-1.3zM422 242h1.3v1.3h-1.3zM422 244h1.3v1.3h-1.3zM422 245h1.3v1.3h-1.3zM422 264h1.3v1.3h-1.3zM422.5 231h1.3v1.3h-1.3zM422.5 231.5h1.3v1.3h-1.3zM422.5 238h1.3v1.3h-1.3zM422.5 240.5h1.3v1.3h-1.3zM422.5 242h1.3v1.3h-1.3zM422.5 267h1.3v1.3h-1.3zM422.5 285.5h1.3v1.3h-1.3zM423 242h1.3v1.3h-1.3zM423 251.5h1.3v1.3h-1.3zM423 259.5h1.3v1.3h-1.3zM423.5 240.5h1.3v1.3h-1.3zM423.5 248.5h1.3v1.3h-1.3zM423.5 256h1.3v1.3h-1.3zM423.5 269h1.3v1.3h-1.3zM423.5 270.5h1.3v1.3h-1.3zM424 243.5h1.3v1.3h-1.3zM424 255.5h1.3v1.3h-1.3zM424.5 227h1.3v1.3h-1.3zM424.5 242.5h1.3v1.3h-1.3zM424.5 260h1.3v1.3h-1.3zM424.5 262.5h1.3v1.3h-1.3zM424.5 270h1.3v1.3h-1.3zM425 229h1.3v1.3h-1.3zM425 232h1.3v1.3h-1.3zM425 245h1.3v1.3h-1.3zM425 245.5h1.3v1.3h-1.3zM425 246h1.3v1.3h-1.3zM425.5 247.5h1.3v1.3h-1.3zM425.5 252.5h1.3v1.3h-1.3zM425.5 264h1.3v1.3h-1.3zM425.5 269.5h1.3v1.3h-1.3zM426 224h1.3v1.3h-1.3zM426 233h1.3v1.3h-1.3zM426 241.5h1.3v1.3h-1.3zM426.5 227.5h1.3v1.3h-1.3zM426.5 250.5h1.3v1.3h-1.3zM426.5 269.5h1.3v1.3h-1.3zM427 257.5h1.3v1.3h-1.3zM427 269.5h1.3v1.3h-1.3zM427.5 227.5h1.3v1.3h-1.3zM427.5 231h1.3v1.3h-1.3zM427.5 245.5h1.3v1.3h-1.3zM427.5 255.5h1.3v1.3h-1.3zM428 233.5h1.3v1.3h-1.3zM428 245.5h1.3v1.3h-1.3zM428 246.5h1.3v1.3h-1.3zM428 254.5h1.3v1.3h-1.3zM428 268.5h1.3v1.3h-1.3zM428 271.5h1.3v1.3h-1.3zM428.5 227.5h1.3v1.3h-1.3zM428.5 248.5h1.3v1.3h-1.3zM428.5 253h1.3v1.3h-1.3zM428.5 254.5h1.3v1.3h-1.3zM428.5 265.5h1.3v1.3h-1.3zM428.5 281h1.3v1.3h-1.3zM429 234h1.3v1.3h-1.3zM429 245h1.3v1.3h-1.3zM429 250.5h1.3v1.3h-1.3zM429 252h1.3v1.3h-1.3zM429 254h1.3v1.3h-1.3zM429 260h1.3v1.3h-1.3zM429 262.5h1.3v1.3h-1.3zM429 270h1.3v1.3h-1.3zM429.5 267h1.3v1.3h-1.3zM429.5 267.5h1.3v1.3h-1.3zM430 221.5h1.3v1.3h-1.3zM430.5 234h1.3v1.3h-1.3zM430.5 237.5h1.3v1.3h-1.3zM431.5 227.5h1.3v1.3h-1.3zM431.5 240h1.3v1.3h-1.3zM431.5 250h1.3v1.3h-1.3zM431.5 254.5h1.3v1.3h-1.3zM431.5 265h1.3v1.3h-1.3zM431.5 270.5h1.3v1.3h-1.3zM431.5 272h1.3v1.3h-1.3zM432 235h1.3v1.3h-1.3zM432.5 226.5h1.3v1.3h-1.3zM432.5 236.5h1.3v1.3h-1.3zM432.5 257h1.3v1.3h-1.3zM432.5 265.5h1.3v1.3h-1.3zM433 239h1.3v1.3h-1.3zM433 241.5h1.3v1.3h-1.3zM433 245h1.3v1.3h-1.3zM433 264.5h1.3v1.3h-1.3zM433.5 233.5h1.3v1.3h-1.3zM433.5 255h1.3v1.3h-1.3zM434 229.5h1.3v1.3h-1.3zM434 232.5h1.3v1.3h-1.3zM434 239h1.3v1.3h-1.3zM434 266.5h1.3v1.3h-1.3zM434.5 236h1.3v1.3h-1.3zM434.5 254h1.3v1.3h-1.3zM434.5 258h1.3v1.3h-1.3zM434.5 266.5h1.3v1.3h-1.3zM434.5 267h1.3v1.3h-1.3zM434.5 270h1.3v1.3h-1.3zM435 250.5h1.3v1.3h-1.3zM435.5 232.5h1.3v1.3h-1.3zM435.5 236h1.3v1.3h-1.3zM435.5 254.5h1.3v1.3h-1.3zM436 236.5h1.3v1.3h-1.3zM436 243h1.3v1.3h-1.3zM436 245h1.3v1.3h-1.3zM436.5 259h1.3v1.3h-1.3zM436.5 261.5h1.3v1.3h-1.3zM437 233h1.3v1.3h-1.3zM437 243h1.3v1.3h-1.3zM437 252.5h1.3v1.3h-1.3zM437 257h1.3v1.3h-1.3zM437 258h1.3v1.3h-1.3zM437 259.5h1.3v1.3h-1.3zM437 265h1.3v1.3h-1.3zM437.5 229h1.3v1.3h-1.3zM437.5 268h1.3v1.3h-1.3zM438 245h1.3v1.3h-1.3zM438 255.5h1.3v1.3h-1.3zM438 259h1.3v1.3h-1.3zM438 262.5h1.3v1.3h-1.3zM438.5 231.5h1.3v1.3h-1.3zM438.5 252.5h1.3v1.3h-1.3zM439 241h1.3v1.3h-1.3zM439 241.5h1.3v1.3h-1.3zM439 254h1.3v1.3h-1.3zM439 259h1.3v1.3h-1.3zM439.5 231h1.3v1.3h-1.3zM439.5 236h1.3v1.3h-1.3zM439.5 240h1.3v1.3h-1.3zM439.5 244.5h1.3v1.3h-1.3zM440 250h1.3v1.3h-1.3zM440 268h1.3v1.3h-1.3zM440 268.5h1.3v1.3h-1.3zM440.5 229h1.3v1.3h-1.3zM440.5 246h1.3v1.3h-1.3zM441 220.5h1.3v1.3h-1.3zM441 231h1.3v1.3h-1.3zM441 239.5h1.3v1.3h-1.3zM441 248h1.3v1.3h-1.3zM441 256h1.3v1.3h-1.3zM441.5 258.5h1.3v1.3h-1.3zM441.5 266h1.3v1.3h-1.3zM442 254h1.3v1.3h-1.3zM442.5 241h1.3v1.3h-1.3zM442.5 254.5h1.3v1.3h-1.3zM442.5 257h1.3v1.3h-1.3zM442.5 257.5h1.3v1.3h-1.3zM442.5 272.5h1.3v1.3h-1.3zM443 226.5h1.3v1.3h-1.3zM443 237.5h1.3v1.3h-1.3zM443 239h1.3v1.3h-1.3zM443 249.5h1.3v1.3h-1.3zM443 250h1.3v1.3h-1.3zM443 257h1.3v1.3h-1.3zM443 269.5h1.3v1.3h-1.3zM443.5 232h1.3v1.3h-1.3zM443.5 240.5h1.3v1.3h-1.3zM443.5 260.5h1.3v1.3h-1.3zM444 227.5h1.3v1.3h-1.3zM444 238.5h1.3v1.3h-1.3zM444 262.5h1.3v1.3h-1.3zM444.5 232h1.3v1.3h-1.3zM444.5 238h1.3v1.3h-1.3zM444.5 268.5h1.3v1.3h-1.3zM445 200.5h1.3v1.3h-1.3zM445 238.5h1.3v1.3h-1.3zM445 247.5h1.3v1.3h-1.3zM445 266h1.3v1.3h-1.3zM445.5 225.5h1.3v1.3h-1.3zM445.5 230h1.3v1.3h-1.3zM445.5 239h1.3v1.3h-1.3zM445.5 245h1.3v1.3h-1.3zM445.5 262.5h1.3v1.3h-1.3zM445.5 263.5h1.3v1.3h-1.3zM445.5 274.5h1.3v1.3h-1.3zM446 254h1.3v1.3h-1.3zM446 260h1.3v1.3h-1.3zM446.5 241.5h1.3v1.3h-1.3zM446.5 261h1.3v1.3h-1.3zM446.5 264h1.3v1.3h-1.3zM446.5 266h1.3v1.3h-1.3zM447 249.5h1.3v1.3h-1.3zM447 256h1.3v1.3h-1.3zM447 263.5h1.3v1.3h-1.3zM447 271.5h1.3v1.3h-1.3zM447.5 236h1.3v1.3h-1.3zM447.5 247.5h1.3v1.3h-1.3zM447.5 249.5h1.3v1.3h-1.3zM447.5 250h1.3v1.3h-1.3zM447.5 251h1.3v1.3h-1.3zM447.5 251.5h1.3v1.3h-1.3zM447.5 253.5h1.3v1.3h-1.3zM447.5 265.5h1.3v1.3h-1.3zM448 243.5h1.3v1.3h-1.3zM448 247h1.3v1.3h-1.3zM448 252.5h1.3v1.3h-1.3zM448 262h1.3v1.3h-1.3zM448 266.5h1.3v1.3h-1.3zM448.5 227h1.3v1.3h-1.3zM448.5 257.5h1.3v1.3h-1.3zM449 237h1.3v1.3h-1.3zM449 240h1.3v1.3h-1.3zM449 249h1.3v1.3h-1.3zM449 257h1.3v1.3h-1.3zM449 261.5h1.3v1.3h-1.3zM449.5 250h1.3v1.3h-1.3zM449.5 263.5h1.3v1.3h-1.3zM449.5 269.5h1.3v1.3h-1.3zM450 235.5h1.3v1.3h-1.3zM450 236h1.3v1.3h-1.3zM450 237.5h1.3v1.3h-1.3zM450 246h1.3v1.3h-1.3zM450 256h1.3v1.3h-1.3zM450 262.5h1.3v1.3h-1.3zM450 267.5h1.3v1.3h-1.3zM450.5 209h1.3v1.3h-1.3zM450.5 217.5h1.3v1.3h-1.3zM450.5 221.5h1.3v1.3h-1.3zM450.5 245h1.3v1.3h-1.3zM450.5 248h1.3v1.3h-1.3zM450.5 250h1.3v1.3h-1.3zM451 228.5h1.3v1.3h-1.3zM451 247h1.3v1.3h-1.3zM451 264.5h1.3v1.3h-1.3zM451.5 226h1.3v1.3h-1.3zM451.5 231h1.3v1.3h-1.3zM451.5 232.5h1.3v1.3h-1.3zM451.5 237h1.3v1.3h-1.3zM451.5 253.5h1.3v1.3h-1.3zM451.5 254h1.3v1.3h-1.3zM451.5 271h1.3v1.3h-1.3zM452 238.5h1.3v1.3h-1.3zM452 243h1.3v1.3h-1.3zM452 255.5h1.3v1.3h-1.3zM452.5 242.5h1.3v1.3h-1.3zM452.5 246h1.3v1.3h-1.3zM452.5 253.5h1.3v1.3h-1.3zM453 227h1.3v1.3h-1.3zM453 228h1.3v1.3h-1.3zM453 231h1.3v1.3h-1.3zM453 248.5h1.3v1.3h-1.3zM453 257h1.3v1.3h-1.3zM453.5 227.5h1.3v1.3h-1.3zM453.5 237.5h1.3v1.3h-1.3zM453.5 249.5h1.3v1.3h-1.3zM453.5 256h1.3v1.3h-1.3zM453.5 264.5h1.3v1.3h-1.3zM454 231h1.3v1.3h-1.3zM454 247.5h1.3v1.3h-1.3zM454.5 221.5h1.3v1.3h-1.3zM454.5 251.5h1.3v1.3h-1.3zM454.5 252.5h1.3v1.3h-1.3zM454.5 257.5h1.3v1.3h-1.3zM454.5 258h1.3v1.3h-1.3zM455 237.5h1.3v1.3h-1.3zM455 248h1.3v1.3h-1.3zM455 257h1.3v1.3h-1.3zM455 257.5h1.3v1.3h-1.3zM455.5 232h1.3v1.3h-1.3zM455.5 248h1.3v1.3h-1.3zM455.5 250.5h1.3v1.3h-1.3zM455.5 265.5h1.3v1.3h-1.3zM456.5 259h1.3v1.3h-1.3zM456.5 263h1.3v1.3h-1.3zM457 236.5h1.3v1.3h-1.3zM457 244h1.3v1.3h-1.3zM457 244.5h1.3v1.3h-1.3zM457 246.5h1.3v1.3h-1.3zM457 254h1.3v1.3h-1.3zM457 270.5h1.3v1.3h-1.3zM458 228.5h1.3v1.3h-1.3zM458 241.5h1.3v1.3h-1.3zM458 242.5h1.3v1.3h-1.3zM458 249h1.3v1.3h-1.3zM458.5 236.5h1.3v1.3h-1.3zM458.5 248h1.3v1.3h-1.3zM458.5 251.5h1.3v1.3h-1.3zM458.5 257h1.3v1.3h-1.3zM458.5 269h1.3v1.3h-1.3zM459 244h1.3v1.3h-1.3zM459 264h1.3v1.3h-1.3zM459.5 244.5h1.3v1.3h-1.3zM459.5 261.5h1.3v1.3h-1.3zM459.5 263h1.3v1.3h-1.3zM460 241.5h1.3v1.3h-1.3zM460.5 239.5h1.3v1.3h-1.3zM461 236.5h1.3v1.3h-1.3zM461 251.5h1.3v1.3h-1.3zM461 266.5h1.3v1.3h-1.3zM461 267.5h1.3v1.3h-1.3zM461.5 247h1.3v1.3h-1.3zM461.5 271.5h1.3v1.3h-1.3zM462 226.5h1.3v1.3h-1.3zM462 244h1.3v1.3h-1.3zM462 252h1.3v1.3h-1.3zM462.5 240.5h1.3v1.3h-1.3zM462.5 247h1.3v1.3h-1.3zM462.5 247.5h1.3v1.3h-1.3zM462.5 252h1.3v1.3h-1.3zM463 229.5h1.3v1.3h-1.3zM463 254.5h1.3v1.3h-1.3zM463.5 243h1.3v1.3h-1.3zM463.5 266.5h1.3v1.3h-1.3zM464 232.5h1.3v1.3h-1.3zM464 239h1.3v1.3h-1.3zM464 240h1.3v1.3h-1.3zM464 248h1.3v1.3h-1.3zM464 248.5h1.3v1.3h-1.3zM464 260.5h1.3v1.3h-1.3zM464 263h1.3v1.3h-1.3zM464.5 227.5h1.3v1.3h-1.3zM464.5 237.5h1.3v1.3h-1.3zM464.5 239.5h1.3v1.3h-1.3zM464.5 240.5h1.3v1.3h-1.3zM464.5 243h1.3v1.3h-1.3zM464.5 244.5h1.3v1.3h-1.3zM464.5 265.5h1.3v1.3h-1.3zM465 248.5h1.3v1.3h-1.3zM465.5 243h1.3v1.3h-1.3zM465.5 274.5h1.3v1.3h-1.3zM466.5 269.5h1.3v1.3h-1.3zM467 210.5h1.3v1.3h-1.3zM467 239h1.3v1.3h-1.3zM467 271h1.3v1.3h-1.3zM467.5 241h1.3v1.3h-1.3zM468 247.5h1.3v1.3h-1.3zM468.5 239h1.3v1.3h-1.3zM468.5 241h1.3v1.3h-1.3zM468.5 243.5h1.3v1.3h-1.3zM468.5 245.5h1.3v1.3h-1.3zM468.5 249h1.3v1.3h-1.3zM468.5 262.5h1.3v1.3h-1.3zM469 248h1.3v1.3h-1.3zM469 262.5h1.3v1.3h-1.3zM469.5 231h1.3v1.3h-1.3zM469.5 233h1.3v1.3h-1.3zM469.5 237.5h1.3v1.3h-1.3zM469.5 246.5h1.3v1.3h-1.3zM469.5 250h1.3v1.3h-1.3zM469.5 260.5h1.3v1.3h-1.3zM469.5 265h1.3v1.3h-1.3zM469.5 268.5h1.3v1.3h-1.3zM470 241h1.3v1.3h-1.3zM470 243h1.3v1.3h-1.3zM470 261h1.3v1.3h-1.3zM470.5 231.5h1.3v1.3h-1.3zM470.5 259.5h1.3v1.3h-1.3zM471 233.5h1.3v1.3h-1.3zM471 235.5h1.3v1.3h-1.3zM471 251.5h1.3v1.3h-1.3zM471 266.5h1.3v1.3h-1.3zM471.5 236.5h1.3v1.3h-1.3zM471.5 258.5h1.3v1.3h-1.3zM471.5 263h1.3v1.3h-1.3zM471.5 265.5h1.3v1.3h-1.3zM471.5 269h1.3v1.3h-1.3zM472 241h1.3v1.3h-1.3zM472 251.5h1.3v1.3h-1.3zM472 264.5h1.3v1.3h-1.3zM472.5 252h1.3v1.3h-1.3zM472.5 261h1.3v1.3h-1.3zM473 226h1.3v1.3h-1.3zM473 233h1.3v1.3h-1.3zM473 239.5h1.3v1.3h-1.3zM473 242.5h1.3v1.3h-1.3zM473 247.5h1.3v1.3h-1.3zM473 253.5h1.3v1.3h-1.3zM473 257.5h1.3v1.3h-1.3zM473 263.5h1.3v1.3h-1.3zM473.5 234.5h1.3v1.3h-1.3zM473.5 270.5h1.3v1.3h-1.3zM474 224h1.3v1.3h-1.3zM474 226.5h1.3v1.3h-1.3zM474 245.5h1.3v1.3h-1.3zM474 278.5h1.3v1.3h-1.3zM474.5 247h1.3v1.3h-1.3zM474.5 265h1.3v1.3h-1.3zM474.5 269h1.3v1.3h-1.3zM474.5 270.5h1.3v1.3h-1.3zM475.5 230.5h1.3v1.3h-1.3zM475.5 242h1.3v1.3h-1.3zM475.5 246.5h1.3v1.3h-1.3zM475.5 252h1.3v1.3h-1.3zM475.5 253.5h1.3v1.3h-1.3zM476 257.5h1.3v1.3h-1.3zM476 267.5h1.3v1.3h-1.3zM476.5 223h1.3v1.3h-1.3zM476.5 224.5h1.3v1.3h-1.3zM476.5 246.5h1.3v1.3h-1.3zM476.5 259.5h1.3v1.3h-1.3zM477 230h1.3v1.3h-1.3zM477 233h1.3v1.3h-1.3zM477 243.5h1.3v1.3h-1.3zM477 246.5h1.3v1.3h-1.3zM477 256h1.3v1.3h-1.3zM477 269h1.3v1.3h-1.3zM477.5 230.5h1.3v1.3h-1.3zM477.5 247.5h1.3v1.3h-1.3zM477.5 254h1.3v1.3h-1.3zM477.5 259h1.3v1.3h-1.3zM477.5 270h1.3v1.3h-1.3zM478 230.5h1.3v1.3h-1.3zM478 237.5h1.3v1.3h-1.3zM478.5 225h1.3v1.3h-1.3zM478.5 244h1.3v1.3h-1.3zM478.5 265.5h1.3v1.3h-1.3zM478.5 269.5h1.3v1.3h-1.3zM479 218.5h1.3v1.3h-1.3zM479 229.5h1.3v1.3h-1.3zM479 237.5h1.3v1.3h-1.3zM479.5 254.5h1.3v1.3h-1.3zM479.5 255.5h1.3v1.3h-1.3zM480.5 251.5h1.3v1.3h-1.3zM480.5 255.5h1.3v1.3h-1.3zM481 227h1.3v1.3h-1.3zM481 228.5h1.3v1.3h-1.3zM481 264.5h1.3v1.3h-1.3zM481 266.5h1.3v1.3h-1.3zM481 268.5h1.3v1.3h-1.3zM481.5 217h1.3v1.3h-1.3zM481.5 236h1.3v1.3h-1.3zM481.5 246.5h1.3v1.3h-1.3zM481.5 258h1.3v1.3h-1.3zM482 241.5h1.3v1.3h-1.3zM482 256h1.3v1.3h-1.3zM482 258.5h1.3v1.3h-1.3zM482 269.5h1.3v1.3h-1.3zM482.5 217h1.3v1.3h-1.3zM482.5 244.5h1.3v1.3h-1.3zM482.5 269h1.3v1.3h-1.3zM483 227h1.3v1.3h-1.3zM483 231.5h1.3v1.3h-1.3zM483 233.5h1.3v1.3h-1.3zM483 264.5h1.3v1.3h-1.3zM483.5 236h1.3v1.3h-1.3zM483.5 259h1.3v1.3h-1.3zM484 222.5h1.3v1.3h-1.3zM484 226h1.3v1.3h-1.3zM484 233.5h1.3v1.3h-1.3zM484 244h1.3v1.3h-1.3zM484 259h1.3v1.3h-1.3zM484 268.5h1.3v1.3h-1.3zM484.5 225.5h1.3v1.3h-1.3zM484.5 238h1.3v1.3h-1.3zM485 229h1.3v1.3h-1.3zM485 237.5h1.3v1.3h-1.3zM485.5 217.5h1.3v1.3h-1.3zM485.5 221h1.3v1.3h-1.3zM485.5 239h1.3v1.3h-1.3zM485.5 255h1.3v1.3h-1.3zM485.5 261h1.3v1.3h-1.3zM485.5 271h1.3v1.3h-1.3zM486 222.5h1.3v1.3h-1.3zM486 232.5h1.3v1.3h-1.3zM486 234h1.3v1.3h-1.3zM486 240h1.3v1.3h-1.3zM486 246.5h1.3v1.3h-1.3zM486.5 237h1.3v1.3h-1.3zM486.5 250.5h1.3v1.3h-1.3zM486.5 257.5h1.3v1.3h-1.3zM486.5 259.5h1.3v1.3h-1.3zM487 210h1.3v1.3h-1.3zM487 229h1.3v1.3h-1.3zM487 231.5h1.3v1.3h-1.3zM487 232.5h1.3v1.3h-1.3zM487 240h1.3v1.3h-1.3zM487 258h1.3v1.3h-1.3zM487 260.5h1.3v1.3h-1.3zM487 266.5h1.3v1.3h-1.3zM487.5 220h1.3v1.3h-1.3zM487.5 260.5h1.3v1.3h-1.3zM488 228.5h1.3v1.3h-1.3zM488 243.5h1.3v1.3h-1.3zM488.5 216h1.3v1.3h-1.3zM488.5 252h1.3v1.3h-1.3zM489 215h1.3v1.3h-1.3zM489 236h1.3v1.3h-1.3zM489 255.5h1.3v1.3h-1.3zM489.5 222h1.3v1.3h-1.3zM489.5 230.5h1.3v1.3h-1.3zM489.5 251h1.3v1.3h-1.3zM489.5 254h1.3v1.3h-1.3zM490 229.5h1.3v1.3h-1.3zM490 231.5h1.3v1.3h-1.3zM490 241.5h1.3v1.3h-1.3zM490 244.5h1.3v1.3h-1.3zM490 260.5h1.3v1.3h-1.3zM490.5 216.5h1.3v1.3h-1.3zM490.5 225.5h1.3v1.3h-1.3zM490.5 228h1.3v1.3h-1.3zM490.5 237.5h1.3v1.3h-1.3zM490.5 247.5h1.3v1.3h-1.3zM490.5 249.5h1.3v1.3h-1.3zM490.5 255h1.3v1.3h-1.3zM490.5 260.5h1.3v1.3h-1.3zM491 224h1.3v1.3h-1.3zM491 254.5h1.3v1.3h-1.3zM491 262h1.3v1.3h-1.3zM491 264h1.3v1.3h-1.3zM491.5 231.5h1.3v1.3h-1.3zM491.5 236.5h1.3v1.3h-1.3zM491.5 249.5h1.3v1.3h-1.3zM491.5 252.5h1.3v1.3h-1.3zM492 223h1.3v1.3h-1.3zM492 252h1.3v1.3h-1.3zM492 253h1.3v1.3h-1.3zM492 257.5h1.3v1.3h-1.3zM492.5 224.5h1.3v1.3h-1.3zM492.5 247.5h1.3v1.3h-1.3zM493 210h1.3v1.3h-1.3zM493 227.5h1.3v1.3h-1.3zM493 255.5h1.3v1.3h-1.3zM493.5 237.5h1.3v1.3h-1.3zM493.5 239.5h1.3v1.3h-1.3zM494 226.5h1.3v1.3h-1.3zM494 233.5h1.3v1.3h-1.3zM494 260h1.3v1.3h-1.3zM494 271h1.3v1.3h-1.3zM494.5 212h1.3v1.3h-1.3zM494.5 217.5h1.3v1.3h-1.3zM494.5 237.5h1.3v1.3h-1.3zM494.5 245.5h1.3v1.3h-1.3zM494.5 266h1.3v1.3h-1.3zM495 224.5h1.3v1.3h-1.3zM495 232.5h1.3v1.3h-1.3zM495 243.5h1.3v1.3h-1.3zM495 254.5h1.3v1.3h-1.3zM495 261.5h1.3v1.3h-1.3zM495 266h1.3v1.3h-1.3zM495.5 211.5h1.3v1.3h-1.3zM495.5 235.5h1.3v1.3h-1.3zM496 232.5h1.3v1.3h-1.3zM496 245h1.3v1.3h-1.3zM496.5 254.5h1.3v1.3h-1.3zM496.5 262h1.3v1.3h-1.3zM497 210.5h1.3v1.3h-1.3zM497 221.5h1.3v1.3h-1.3zM497 237h1.3v1.3h-1.3zM497.5 209.5h1.3v1.3h-1.3zM497.5 218h1.3v1.3h-1.3zM497.5 237h1.3v1.3h-1.3zM497.5 261h1.3v1.3h-1.3zM498 228.5h1.3v1.3h-1.3zM498 245.5h1.3v1.3h-1.3zM498 249.5h1.3v1.3h-1.3zM498.5 206.5h1.3v1.3h-1.3zM498.5 217.5h1.3v1.3h-1.3zM498.5 229h1.3v1.3h-1.3zM498.5 236h1.3v1.3h-1.3zM498.5 255h1.3v1.3h-1.3zM498.5 261.5h1.3v1.3h-1.3zM498.5 265h1.3v1.3h-1.3zM499 224h1.3v1.3h-1.3zM499 238h1.3v1.3h-1.3zM499 239.5h1.3v1.3h-1.3zM499 253h1.3v1.3h-1.3zM499 255.5h1.3v1.3h-1.3zM500 236h1.3v1.3h-1.3zM500.5 215h1.3v1.3h-1.3zM500.5 215.5h1.3v1.3h-1.3zM500.5 220.5h1.3v1.3h-1.3zM500.5 232h1.3v1.3h-1.3zM500.5 232.5h1.3v1.3h-1.3zM500.5 265.5h1.3v1.3h-1.3zM501 210.5h1.3v1.3h-1.3zM501 213h1.3v1.3h-1.3zM501 220h1.3v1.3h-1.3zM501 242.5h1.3v1.3h-1.3zM501 248.5h1.3v1.3h-1.3zM501.5 236h1.3v1.3h-1.3zM501.5 255.5h1.3v1.3h-1.3zM502 213.5h1.3v1.3h-1.3zM502 219h1.3v1.3h-1.3zM502 234h1.3v1.3h-1.3zM502 236.5h1.3v1.3h-1.3zM502 241h1.3v1.3h-1.3zM502.5 218h1.3v1.3h-1.3zM502.5 223h1.3v1.3h-1.3zM502.5 269.5h1.3v1.3h-1.3zM503 224.5h1.3v1.3h-1.3zM503 245h1.3v1.3h-1.3zM503 249.5h1.3v1.3h-1.3zM503.5 214.5h1.3v1.3h-1.3zM503.5 217.5h1.3v1.3h-1.3zM503.5 246.5h1.3v1.3h-1.3zM503.5 260h1.3v1.3h-1.3zM504 246h1.3v1.3h-1.3zM504 255.5h1.3v1.3h-1.3zM504.5 233.5h1.3v1.3h-1.3zM504.5 234h1.3v1.3h-1.3zM505 224.5h1.3v1.3h-1.3zM505.5 209h1.3v1.3h-1.3zM505.5 213h1.3v1.3h-1.3zM505.5 219h1.3v1.3h-1.3zM505.5 232h1.3v1.3h-1.3zM505.5 234.5h1.3v1.3h-1.3zM505.5 236.5h1.3v1.3h-1.3zM505.5 242.5h1.3v1.3h-1.3zM505.5 248h1.3v1.3h-1.3zM506 212.5h1.3v1.3h-1.3zM506 217h1.3v1.3h-1.3zM506 228h1.3v1.3h-1.3zM507 205.5h1.3v1.3h-1.3zM507.5 211h1.3v1.3h-1.3zM507.5 227h1.3v1.3h-1.3zM507.5 246h1.3v1.3h-1.3zM507.5 253h1.3v1.3h-1.3zM507.5 254h1.3v1.3h-1.3zM508 225h1.3v1.3h-1.3zM508 249.5h1.3v1.3h-1.3zM508 259h1.3v1.3h-1.3zM508.5 200.5h1.3v1.3h-1.3zM508.5 216h1.3v1.3h-1.3zM509 199.5h1.3v1.3h-1.3zM509 219.5h1.3v1.3h-1.3zM509 259.5h1.3v1.3h-1.3zM509 268h1.3v1.3h-1.3zM509.5 218h1.3v1.3h-1.3zM509.5 226.5h1.3v1.3h-1.3zM509.5 234h1.3v1.3h-1.3zM510 206.5h1.3v1.3h-1.3zM510 217h1.3v1.3h-1.3zM510 236h1.3v1.3h-1.3zM510.5 230.5h1.3v1.3h-1.3zM510.5 236.5h1.3v1.3h-1.3zM510.5 237h1.3v1.3h-1.3zM510.5 259.5h1.3v1.3h-1.3zM510.5 260.5h1.3v1.3h-1.3zM511 209h1.3v1.3h-1.3zM511.5 200h1.3v1.3h-1.3zM511.5 217h1.3v1.3h-1.3zM511.5 222h1.3v1.3h-1.3zM511.5 252h1.3v1.3h-1.3zM512 242.5h1.3v1.3h-1.3zM512.5 200.5h1.3v1.3h-1.3zM512.5 237h1.3v1.3h-1.3zM513 204h1.3v1.3h-1.3zM513 209h1.3v1.3h-1.3zM513 226h1.3v1.3h-1.3zM513 229h1.3v1.3h-1.3zM513 234h1.3v1.3h-1.3zM513 246h1.3v1.3h-1.3zM513 249h1.3v1.3h-1.3zM513.5 208h1.3v1.3h-1.3zM513.5 251.5h1.3v1.3h-1.3zM514 207h1.3v1.3h-1.3zM514 228.5h1.3v1.3h-1.3zM514 248h1.3v1.3h-1.3zM514.5 219.5h1.3v1.3h-1.3zM514.5 223h1.3v1.3h-1.3zM514.5 233.5h1.3v1.3h-1.3zM514.5 240.5h1.3v1.3h-1.3zM515 231.5h1.3v1.3h-1.3zM515 236h1.3v1.3h-1.3zM515 242h1.3v1.3h-1.3zM515 255h1.3v1.3h-1.3zM515.5 196.5h1.3v1.3h-1.3zM515.5 215h1.3v1.3h-1.3zM515.5 224h1.3v1.3h-1.3zM515.5 235h1.3v1.3h-1.3zM515.5 250h1.3v1.3h-1.3zM515.5 251h1.3v1.3h-1.3zM516 194.5h1.3v1.3h-1.3zM516 219h1.3v1.3h-1.3zM516 222h1.3v1.3h-1.3zM516.5 200h1.3v1.3h-1.3zM516.5 234.5h1.3v1.3h-1.3zM516.5 236h1.3v1.3h-1.3zM516.5 238.5h1.3v1.3h-1.3zM517 229h1.3v1.3h-1.3zM517 235h1.3v1.3h-1.3zM517 241h1.3v1.3h-1.3zM517.5 202.5h1.3v1.3h-1.3zM517.5 212h1.3v1.3h-1.3zM517.5 251.5h1.3v1.3h-1.3zM517.5 264.5h1.3v1.3h-1.3zM518 196.5h1.3v1.3h-1.3zM518 213.5h1.3v1.3h-1.3zM518 241.5h1.3v1.3h-1.3zM518 259.5h1.3v1.3h-1.3zM518.5 201h1.3v1.3h-1.3zM518.5 204h1.3v1.3h-1.3zM518.5 217.5h1.3v1.3h-1.3zM518.5 247h1.3v1.3h-1.3zM518.5 252.5h1.3v1.3h-1.3zM518.5 259h1.3v1.3h-1.3zM519 217h1.3v1.3h-1.3zM519 239.5h1.3v1.3h-1.3zM519 253h1.3v1.3h-1.3zM519.5 204.5h1.3v1.3h-1.3zM519.5 243.5h1.3v1.3h-1.3z" fill="#3a3aff"/>
<path d="M340.40,75.80 C341.18,76.58 343.42,78.68 345.10,80.50 C346.78,82.32 348.32,84.25 350.50,86.70 C352.68,89.15 355.62,92.23 358.20,95.20 C360.78,98.17 363.42,101.67 366.00,104.50 C368.58,107.33 371.03,109.37 373.70,112.20 C376.37,115.03 378.55,117.87 382.00,121.50 C385.45,125.13 390.23,129.52 394.40,134.00 C398.57,138.48 404.90,146.00 407.00,148.40" fill="none" stroke="#000" stroke-width="4.2" stroke-linecap="round" stroke-linejoin="round"/>
<path d="M407.00,148.40 C409.12,150.50 415.57,156.65 419.70,161.00 C423.83,165.35 428.28,170.45 431.80,174.50 C435.32,178.55 437.48,181.23 440.80,185.30 C444.12,189.37 448.08,194.68 451.70,198.90 C455.32,203.12 458.62,206.87 462.50,210.60 C466.38,214.33 471.75,218.65 475.00,221.30 C478.25,223.95 479.68,224.87 482.00,226.50 C484.32,228.13 486.58,229.85 488.90,231.10 C491.22,232.35 493.58,233.23 495.90,234.00 C498.22,234.77 500.48,235.47 502.80,235.70 C505.12,235.93 507.67,235.68 509.80,235.40 C511.93,235.12 514.15,234.43 515.60,234.00 C517.05,233.57 518.02,233.00 518.50,232.80" fill="none" stroke="#000" stroke-width="5.2" stroke-linecap="round" stroke-linejoin="round"/></svg></body></html>
